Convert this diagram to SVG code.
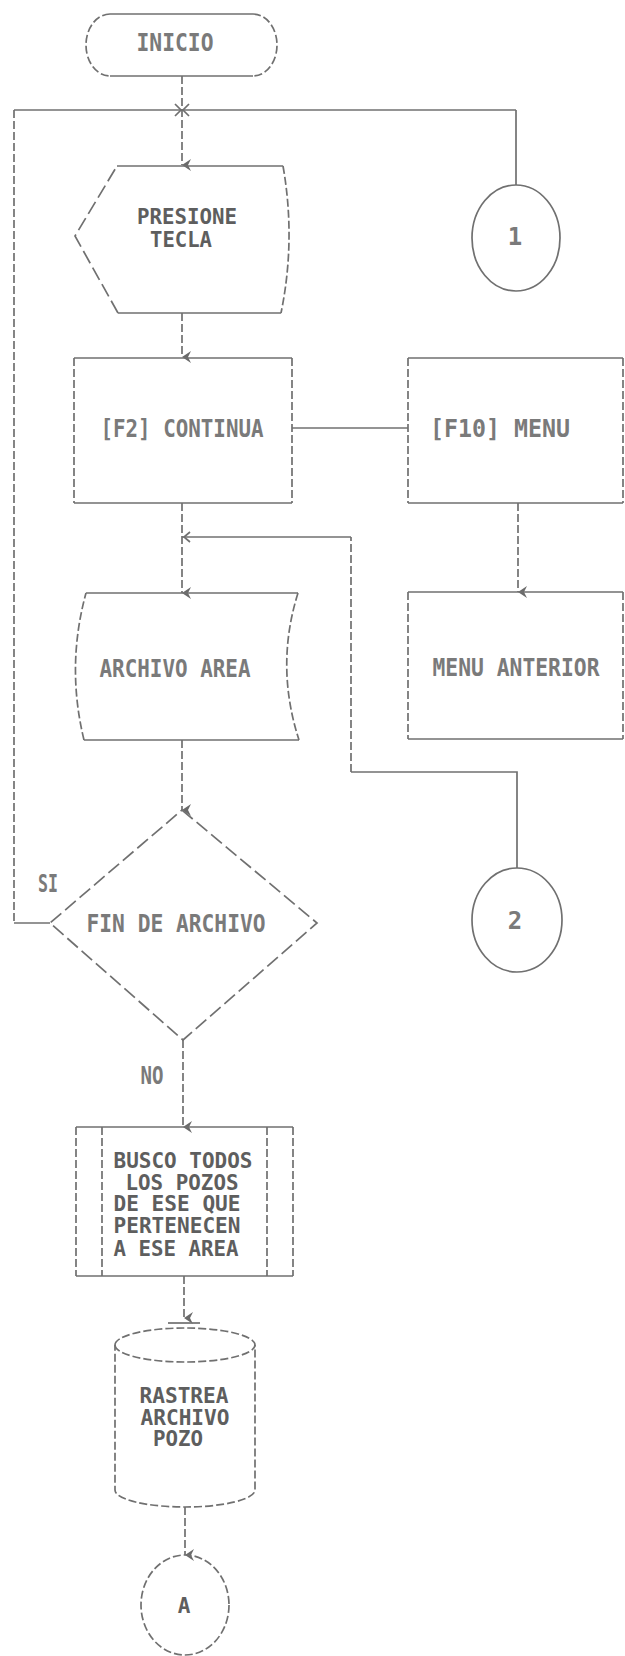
<svg xmlns="http://www.w3.org/2000/svg" width="625" height="1656" viewBox="0 0 625 1656">
<style>
.h{fill:none;stroke:#707070;stroke-width:1.7}
.v{fill:none;stroke:#707070;stroke-width:1.7;stroke-dasharray:8 3}
.d{fill:none;stroke:#707070;stroke-width:1.7;stroke-dasharray:14 5}
.t{font-family:"DejaVu Sans Mono","Liberation Mono",monospace;font-size:24px;font-weight:bold;fill:#7a7a7a;text-anchor:middle}
.tk{font-family:"DejaVu Sans Mono","Liberation Mono",monospace;font-size:21px;font-weight:bold;fill:#5e5e5e;text-anchor:middle}
</style>
<defs>
<marker id="ah" markerWidth="12" markerHeight="12" refX="6" refY="11" orient="auto" markerUnits="userSpaceOnUse" viewBox="0 0 12 12">
<path d="M0,2 L6,11 L12,2 L6,5 Z" fill="#6a6a6a"/>
</marker>
</defs>
<rect width="625" height="1656" fill="#ffffff"/>

<g id="connectors">
<path class="v" d="M182,76 L182,165" marker-end="url(#ah)"/>
<path class="h" d="M14,110 L516,110"/>
<path class="v" d="M14,110 L14,923"/>
<path class="h" d="M50,923 L14,923"/>
<path class="h" d="M516,185 L516,110"/>
<path class="h" d="M175,104 L181,110 L175,116 M189,104 L183,110 L189,116"/>
<path class="v" d="M182,313 L182,357" marker-end="url(#ah)"/>
<path class="h" d="M292,428 L408,428"/>
<path class="v" d="M518,503 L518,592" marker-end="url(#ah)"/>
<path class="v" d="M182,503 L182,593" marker-end="url(#ah)"/>
<path class="h" d="M517,868 L517,772 L351,772"/>
<path class="v" d="M351,772 L351,537"/>
<path class="h" d="M351,537 L182,537"/>
<path class="h" d="M190,532 L184,537 L190,542"/>
<path class="v" d="M182,740 L182,810" marker-end="url(#ah)"/>
<path class="v" d="M183,1040 L183,1127" marker-end="url(#ah)"/>
<path class="v" d="M184,1276 L184,1318" marker-end="url(#ah)"/>
<path class="h" d="M168,1323 L200,1323"/>
<path class="v" d="M185,1507 L185,1555" marker-end="url(#ah)"/>
</g>

<g id="inicio">
<path class="h" d="M110,14 L253,14 M110,76 L253,76"/>
<path class="v" d="M110,14 A24,31 0 0 0 110,76 M253,14 A24,31 0 0 1 253,76"/>
<text class="t" x="175" y="51" textLength="77" lengthAdjust="spacingAndGlyphs">INICIO</text>
</g>

<g id="con1">
<ellipse class="h" cx="516" cy="238" rx="44" ry="53"/>
<text class="t" x="515" y="245">1</text>
</g>

<g id="presione">
<path class="h" d="M117,166 L283,166 M118,313 L281,313"/>
<path class="v" d="M283,166 Q296,240 281,313"/>
<path class="d" d="M118,313 L75,236 L117,166"/>
<text class="tk" x="187" y="224" textLength="100" lengthAdjust="spacingAndGlyphs">PRESIONE</text>
<text class="tk" x="181" y="247" textLength="62" lengthAdjust="spacingAndGlyphs">TECLA</text>
</g>

<g id="f2">
<path class="h" d="M74,358 L292,358 M74,503 L292,503"/>
<path class="v" d="M74,358 L74,503 M292,358 L292,503"/>
<text class="t" x="182" y="437" textLength="163" lengthAdjust="spacingAndGlyphs">[F2] CONTINUA</text>
</g>

<g id="f10">
<path class="h" d="M408,358 L623,358 M408,503 L623,503"/>
<path class="v" d="M408,358 L408,503 M623,358 L623,503"/>
<text class="t" x="500" y="437" textLength="140" lengthAdjust="spacingAndGlyphs">[F10] MENU</text>
</g>

<g id="menuanterior">
<path class="h" d="M408,592 L623,592 M408,739 L623,739"/>
<path class="v" d="M408,592 L408,739 M623,592 L623,739"/>
<text class="t" x="516" y="676" textLength="167" lengthAdjust="spacingAndGlyphs">MENU ANTERIOR</text>
</g>

<g id="archivoarea">
<path class="h" d="M86,593 L298,593 M84,740 L299,740"/>
<path class="v" d="M298,593 Q275,666 299,740 M84,740 Q66,666 86,593"/>
<text class="t" x="175" y="677" textLength="151" lengthAdjust="spacingAndGlyphs">ARCHIVO AREA</text>
</g>

<g id="con2">
<ellipse class="h" cx="517" cy="920" rx="45" ry="52"/>
<text class="t" x="515" y="929">2</text>
</g>

<g id="findearchivo">
<path class="d" d="M182,810 L317,923 L183,1040 L50,923 Z"/>
<text class="t" x="176" y="932" textLength="179" lengthAdjust="spacingAndGlyphs">FIN DE ARCHIVO</text>
<text class="t" x="48" y="892" textLength="20" lengthAdjust="spacingAndGlyphs">SI</text>
<text class="t" x="152" y="1084" textLength="23" lengthAdjust="spacingAndGlyphs">NO</text>
</g>

<g id="busco">
<path class="h" d="M76,1127 L293,1127 M76,1276 L293,1276"/>
<path class="v" d="M76,1127 L76,1276 M102,1127 L102,1276 M267,1127 L267,1276 M293,1127 L293,1276"/>
<text class="tk" x="183" y="1168" textLength="139" lengthAdjust="spacingAndGlyphs">BUSCO TODOS</text>
<text class="tk" x="182" y="1190" textLength="113" lengthAdjust="spacingAndGlyphs">LOS POZOS</text>
<text class="tk" x="177" y="1211" textLength="127" lengthAdjust="spacingAndGlyphs">DE ESE QUE</text>
<text class="tk" x="177" y="1233" textLength="127" lengthAdjust="spacingAndGlyphs">PERTENECEN</text>
<text class="tk" x="176" y="1256" textLength="125" lengthAdjust="spacingAndGlyphs">A ESE AREA</text>
</g>

<g id="rastrea">
<path class="v" d="M115,1345 A70,17 0 0 1 255,1345 L255,1490 A70,17 0 0 1 115,1490 Z"/>
<path class="v" d="M115,1345 A70,17 0 0 0 255,1345"/>
<text class="tk" x="184" y="1403" textLength="89" lengthAdjust="spacingAndGlyphs">RASTREA</text>
<text class="tk" x="185" y="1425" textLength="89" lengthAdjust="spacingAndGlyphs">ARCHIVO</text>
<text class="tk" x="178" y="1446" textLength="50" lengthAdjust="spacingAndGlyphs">POZO</text>
</g>

<g id="conA">
<ellipse class="v" cx="185" cy="1605" rx="44" ry="50"/>
<text class="tk" x="184" y="1613">A</text>
</g>
</svg>
